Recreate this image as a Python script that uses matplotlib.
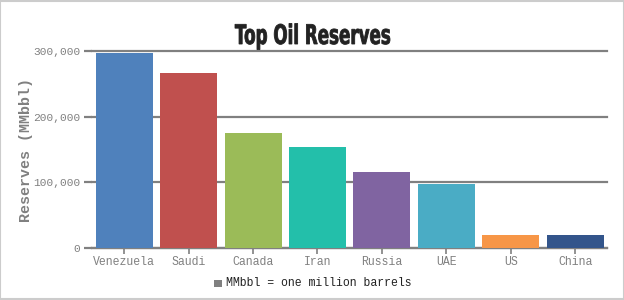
import matplotlib.pyplot as plt
from matplotlib.patches import Rectangle, PathPatch
from matplotlib.textpath import TextPath
from matplotlib.font_manager import FontProperties
from matplotlib.transforms import Affine2D, IdentityTransform

countries = ['Venezuela', 'Saudi', 'Canada', 'Iran', 'Russia', 'UAE', 'US', 'China']
reserves = [297571, 267017, 175200, 154580, 116000, 97800, 20682, 20350]
colors = ['#4F81BC', '#C0504E', '#9BBB58', '#23BFAA', '#8064A1', '#4AACC5', '#F79647', '#33558B']
yticks = [0, 100000, 200000, 300000]
title = 'Top Oil Reserves'

mono = 'Liberation Mono'
gray = '#808080'

fig = plt.figure(figsize=(6.24, 3.0), dpi=100)
fig.patch.set_facecolor('white')
fig.add_artist(Rectangle((0.0008, 0.0017), 0.9984, 0.9966, transform=fig.transFigure,
                         fill=False, edgecolor='#cccccc', linewidth=1.5))

ax = fig.add_axes([0.1474, 0.173, 0.826, 0.657])
x = range(len(countries))
ax.bar(x, reserves, width=0.885, color=colors, zorder=3)

ax.set_ylim(0, 300000)
ax.set_xlim(-0.5, len(countries) - 0.5)
ax.set_yticks(yticks)
ax.set_yticklabels([f'{v:,}' for v in yticks], family=mono, fontsize=8.1, color=gray)
ax.set_xticks(list(x))
ax.set_xticklabels(countries, family=mono, fontsize=8.3, color=gray)
ax.grid(axis='y', color=gray, linewidth=1.6, zorder=0)
for gl in ax.get_ygridlines():
    gl.set_clip_on(False)
ax.tick_params(axis='y', length=5.5, width=1.6, color=gray, pad=3)
ax.tick_params(axis='x', length=4, width=1.2, color=gray, pad=2)

for s in ['top', 'right', 'left']:
    ax.spines[s].set_visible(False)
ax.spines['bottom'].set_color(gray)
ax.spines['bottom'].set_linewidth(1.6)

ax.set_ylabel('Reserves (MMbbl)', family=mono, fontsize=10.8, fontweight='bold', color=gray, labelpad=0)

# condensed heavy title: squeeze a bold text path horizontally
tp = TextPath((0, 0), title, size=27, prop=FontProperties(family='DejaVu Sans', weight='bold'))
ext = tp.get_extents()
sx = 155 / ext.width
H = fig.get_figheight() * fig.dpi
tr = Affine2D().translate(-ext.x0 - ext.width / 2, 0).scale(sx, 1).translate(312.5, H - 44)
fig.add_artist(PathPatch(tr.transform_path(tp), transform=IdentityTransform(),
                         facecolor='#222222', edgecolor='#222222', linewidth=0.6))

fig.add_artist(Rectangle((0.343, 0.043), 0.0122, 0.024, transform=fig.transFigure,
                         facecolor=gray, edgecolor='none'))
fig.text(0.362, 0.055, 'MMbbl = one million barrels', ha='left', va='center',
         family=mono, fontsize=8.3, color='#222222')

fig.savefig('out.png', dpi=100)
